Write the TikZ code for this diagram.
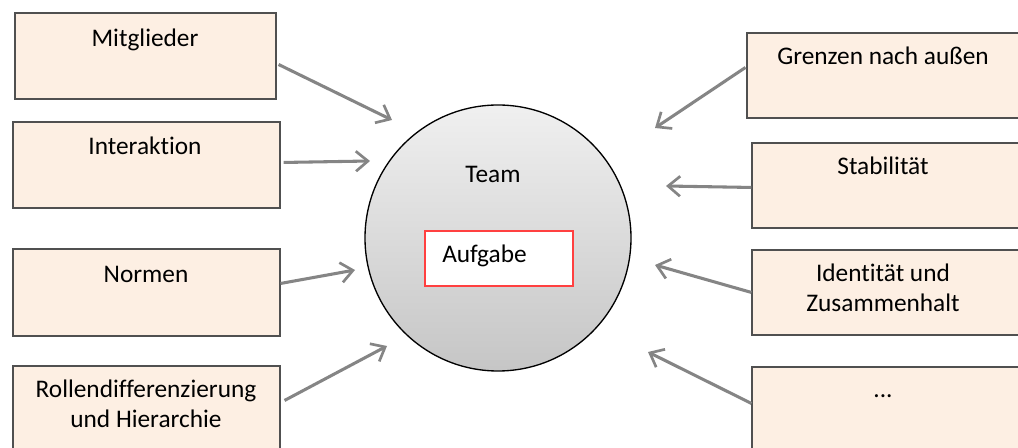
\documentclass[tikz,border=0pt]{standalone}
\usepackage{fontspec}
\setmainfont{Carlito}[Ligatures=NoCommon]
\usetikzlibrary{arrows.meta}
\definecolor{boxfill}{HTML}{FDEFE3}
\definecolor{boxline}{HTML}{505050}
\definecolor{arr}{HTML}{858585}
\begin{document}
\begin{tikzpicture}[x=0.75pt,y=-0.75pt,
  box/.style={draw=boxline,line width=0.8pt,fill=boxfill,rectangle,inner sep=0pt},
  txt/.style={font=\fontsize{19}{22.5}\selectfont,anchor=base,inner sep=0pt,align=center},
  conn/.style={draw=arr,line width=2.3pt,-{Straight Barb[length=9pt,width=15pt,line width=2pt]}}]
\clip (0,0) rectangle (1018,448);
\useasboundingbox (0,0) rectangle (1018,448);
% left boxes
\node[box,minimum width=261*0.75pt,minimum height=86*0.75pt] (m) at (145.5,56) {};
\node[box,minimum width=267*0.75pt,minimum height=86*0.75pt] (i) at (146.5,165) {};
\node[box,minimum width=267*0.75pt,minimum height=87*0.75pt] (n) at (146.5,292.5) {};
\node[box,minimum width=267*0.75pt,minimum height=100*0.75pt] (r) at (146.5,416) {};
% right boxes
\node[box,minimum width=290*0.75pt,minimum height=85*0.75pt] (g) at (892,75.5) {};
\node[box,minimum width=285*0.75pt,minimum height=85*0.75pt] (s) at (894.5,185.5) {};
\node[box,minimum width=285*0.75pt,minimum height=85*0.75pt] (id) at (894.5,292.5) {};
\node[box,minimum width=285*0.75pt,minimum height=100*0.75pt] (d) at (894.5,417) {};
% texts
\node[txt] (mt) at (145,47) {Mitglieder};
\node[txt] (it) at (145,155) {Interaktion};
\node[txt] (nt) at (146,283) {Normen};
\node[txt] (rt) at (146,428) {Rollendifferenzierung\\und Hierarchie};
\node[txt] (gt) at (883,65) {Grenzen nach außen};
\node[txt] (st) at (883,175) {Stabilität};
\node[txt] (idt) at (883,312) {Identität und\\Zusammenhalt};
\node[txt] (dt) at (883,398) {...};
% circle
\node[circle,draw=black,line width=1pt,top color=gray!12,bottom color=gray!45,minimum size=266*0.75pt,inner sep=0pt] (team) at (498,238) {};
\node[txt] (teamt) at (493,183) {Team};
\node[draw=red!75,line width=0.8pt,fill=white,minimum width=148*0.75pt,minimum height=55*0.75pt,inner sep=0pt] (auf) at (499,258.5) {};
\node[txt,anchor=base west] (auft) at (442,263) {Aufgabe};
% arrow end points
\coordinate (em) at (392,120);
\coordinate (ei) at (370,161);
\coordinate (en) at (355,270);
\coordinate (er) at (387,346);
\coordinate (eg) at (655,128);
\coordinate (es) at (666,186);
\coordinate (eid) at (655,265);
\coordinate (ed) at (648,352);
% arrows
\draw[conn] (m.north east) ++(2,52) -- (em);
\draw[conn] (i.north east) ++(3,41) -- (ei);
\draw[conn] (n.north east) ++(0,35) -- (en);
\draw[conn] (r.north east) ++(4,35) -- (er);
\draw[conn] (g.north west) ++(-1,35) -- (eg);
\draw[conn] (s.north west) ++(0,45) -- (es);
\draw[conn] (id.north west) ++(0,43) -- (eid);
\draw[conn] (d.north west) ++(0,37) -- (ed);
\end{tikzpicture}
\end{document}
